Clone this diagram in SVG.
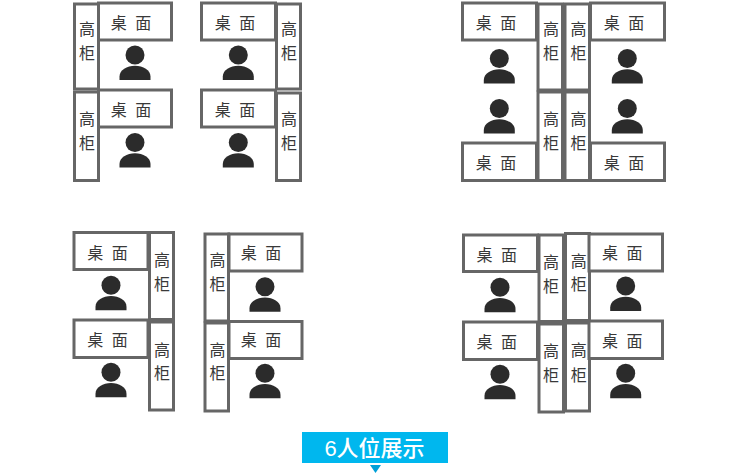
<svg xmlns="http://www.w3.org/2000/svg" width="750" height="475" viewBox="0 0 750 475">
<style>
text{font-family:"Noto Sans CJK SC","Noto Sans",sans-serif;font-size:16px;fill:#333;text-anchor:middle;dominant-baseline:central;opacity:.97}
.b{fill:#fff;stroke:#666;stroke-width:3}
.d{word-spacing:5px}
.p{fill:#2b2b2b}
.t{font-family:"Liberation Sans","Noto Sans CJK SC",sans-serif;font-size:22px;font-weight:500;fill:#fff;opacity:1}
</style>
<defs>
<g id="person"><circle class="p" cx="0" cy="0" r="9.5"/><path class="p" d="M-15.500 25V21.500C-15.500 15-8 10.800 0 10.800C8 10.800 15.500 15 15.500 21.500V25Z"/></g>
</defs>
<rect width="750" height="475" fill="#fff"/>
<g id="group-a">
<g id="a-cab1"><rect class="b" x="74.500" y="4" width="24" height="85"/><text x="87" y="28">高</text><text x="87" y="52">柜</text></g>
<g id="a-cab2"><rect class="b" x="74.500" y="92" width="24" height="88.500"/><text x="87" y="118">高</text><text x="87" y="142">柜</text></g>
<g id="a-desk1"><rect class="b" x="98.500" y="3" width="73" height="37"/><text class="d" x="131" y="22">桌 面</text></g>
<g id="a-desk2"><rect class="b" x="98.500" y="90" width="73" height="37"/><text class="d" x="131" y="109">桌 面</text></g>
<g id="a-p1"><use href="#person" x="135" y="55"/></g>
<g id="a-p2"><use href="#person" x="135" y="142.500"/></g>
</g>
<g id="group-b">
<g id="b-desk1"><rect class="b" x="201.500" y="3" width="74" height="37"/><text class="d" x="235" y="22">桌 面</text></g>
<g id="b-desk2"><rect class="b" x="201.500" y="90" width="74" height="37"/><text class="d" x="235" y="109">桌 面</text></g>
<g id="b-cab1"><rect class="b" x="276.500" y="4" width="24" height="85"/><text x="289" y="28">高</text><text x="289" y="52">柜</text></g>
<g id="b-cab2"><rect class="b" x="276.500" y="93" width="24" height="87.500"/><text x="289" y="118">高</text><text x="289" y="142">柜</text></g>
<g id="b-p1"><use href="#person" x="238.300" y="55"/></g>
<g id="b-p2"><use href="#person" x="238.300" y="142.500"/></g>
</g>
<g id="group-c">
<g id="c-desk1"><rect class="b" x="462.500" y="3" width="74" height="37"/><text class="d" x="496" y="22">桌 面</text></g>
<g id="c-desk2"><rect class="b" x="462.500" y="143" width="74" height="37.500"/><text class="d" x="496" y="162">桌 面</text></g>
<g id="c-desk3"><rect class="b" x="590.500" y="3" width="74" height="37"/><text class="d" x="624" y="22">桌 面</text></g>
<g id="c-desk4"><rect class="b" x="590.500" y="143" width="74" height="37.500"/><text class="d" x="624" y="162">桌 面</text></g>
<g id="c-cab1"><rect class="b" x="538" y="4" width="24.500" height="86"/><text x="551" y="28">高</text><text x="551" y="52">柜</text></g>
<g id="c-cab2"><rect class="b" x="538" y="92" width="24.500" height="88.500"/><text x="551" y="118">高</text><text x="551" y="142">柜</text></g>
<g id="c-cab3"><rect class="b" x="565" y="4" width="24.500" height="86"/><text x="578.500" y="28">高</text><text x="578.500" y="52">柜</text></g>
<g id="c-cab4"><rect class="b" x="565" y="92" width="24.500" height="88.500"/><text x="578.500" y="118">高</text><text x="578.500" y="142">柜</text></g>
<g id="c-p1"><use href="#person" x="499.300" y="58.500"/></g>
<g id="c-p2"><use href="#person" x="499.300" y="108.500"/></g>
<g id="c-p3"><use href="#person" x="627.300" y="58.500"/></g>
<g id="c-p4"><use href="#person" x="627.300" y="108.500"/></g>
</g>
<g id="group-d">
<g id="d-desk1"><rect class="b" x="74" y="232.500" width="74" height="37"/><text class="d" x="107.500" y="252">桌 面</text></g>
<g id="d-desk2"><rect class="b" x="74" y="320" width="74" height="37.500"/><text class="d" x="107.500" y="339">桌 面</text></g>
<g id="d-cab1"><rect class="b" x="149.500" y="232.500" width="24" height="87"/><text x="162" y="259">高</text><text x="162" y="283">柜</text></g>
<g id="d-cab2"><rect class="b" x="149.500" y="322" width="24" height="88"/><text x="162" y="349">高</text><text x="162" y="372">柜</text></g>
<g id="d-p1"><use href="#person" x="111" y="285.300"/></g>
<g id="d-p2"><use href="#person" x="111" y="372.300"/></g>
</g>
<g id="group-e">
<g id="e-cab1"><rect class="b" x="205" y="234" width="23.500" height="87"/><text x="217.500" y="259">高</text><text x="217.500" y="283">柜</text></g>
<g id="e-cab2"><rect class="b" x="205" y="323" width="23.500" height="88"/><text x="217.500" y="349">高</text><text x="217.500" y="372">柜</text></g>
<g id="e-desk1"><rect class="b" x="229" y="234" width="73" height="37"/><text class="d" x="261" y="252">桌 面</text></g>
<g id="e-desk2"><rect class="b" x="229" y="321.500" width="73" height="37"/><text class="d" x="261" y="339">桌 面</text></g>
<g id="e-p1"><use href="#person" x="265" y="286.700"/></g>
<g id="e-p2"><use href="#person" x="265" y="373.300"/></g>
</g>
<g id="group-f">
<g id="f-desk1"><rect class="b" x="463.500" y="235" width="74" height="36.500"/><text class="d" x="496.700" y="254">桌 面</text></g>
<g id="f-desk2"><rect class="b" x="463.500" y="322" width="74" height="37.500"/><text class="d" x="496.700" y="341">桌 面</text></g>
<g id="f-cab1"><rect class="b" x="539" y="235" width="24.500" height="86.500"/><text x="551" y="261">高</text><text x="551" y="285">柜</text></g>
<g id="f-cab2"><rect class="b" x="539" y="324" width="24.500" height="88"/><text x="551" y="350">高</text><text x="551" y="374">柜</text></g>
<g id="f-cab3"><rect class="b" x="565.500" y="233.500" width="24" height="87"/><text x="578.700" y="260">高</text><text x="578.700" y="283">柜</text></g>
<g id="f-cab4"><rect class="b" x="565.500" y="323" width="24" height="88"/><text x="578.700" y="349">高</text><text x="578.700" y="374">柜</text></g>
<g id="f-desk3"><rect class="b" x="589" y="234" width="73.500" height="37"/><text class="d" x="622.300" y="252">桌 面</text></g>
<g id="f-desk4"><rect class="b" x="589" y="321" width="73.500" height="37.500"/><text class="d" x="622.300" y="340">桌 面</text></g>
<g id="f-p1"><use href="#person" x="500" y="287.300"/></g>
<g id="f-p2"><use href="#person" x="500" y="374.300"/></g>
<g id="f-p3"><use href="#person" x="625.700" y="286"/></g>
<g id="f-p4"><use href="#person" x="625.700" y="373.300"/></g>
</g>
<g id="banner">
<rect x="302" y="432" width="146" height="31" fill="#00b7ee"/>
<text class="t" x="374.500" y="448">6人位展示</text>
<path d="M370 465H381L375.500 473Z" fill="#00a0d8"/>
</g>
</svg>
